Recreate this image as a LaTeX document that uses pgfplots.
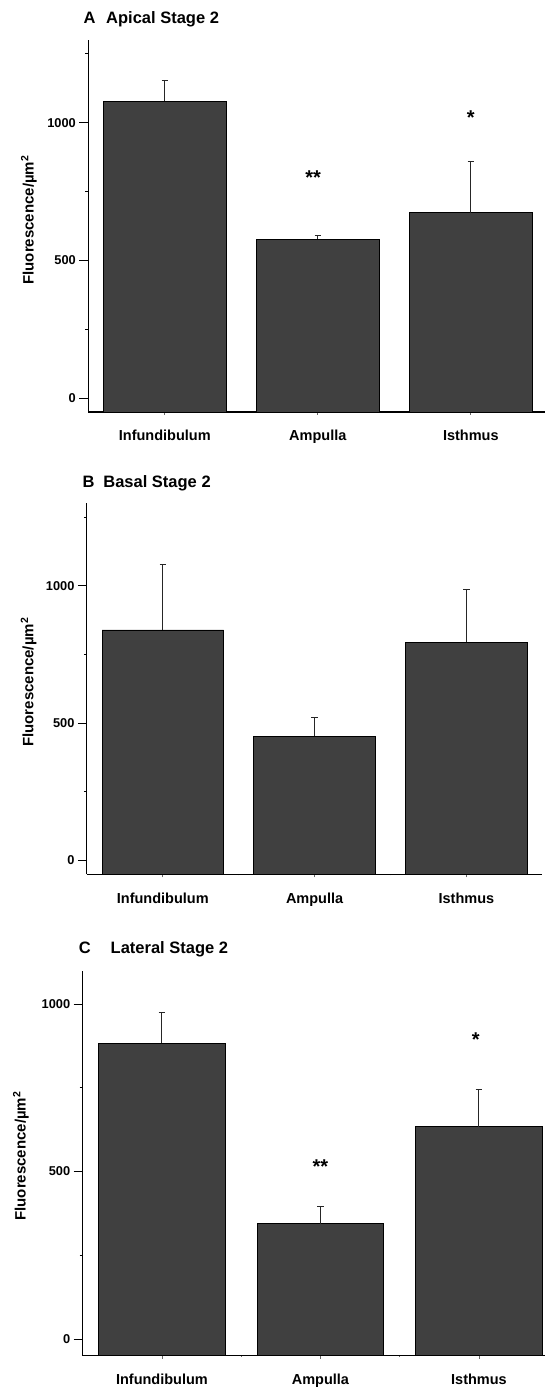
\documentclass[border=0pt]{standalone}
\usepackage{fontspec}
\setmainfont{Liberation Sans}
\usepackage{pgfplots}
\pgfplotsset{compat=1.18}
\definecolor{barfill}{HTML}{404040}
\pgfplotsset{
  panel/.style={
    scale only axis, anchor=south west,
    xmin=-0.5, xmax=2.5,
    y coord trafo/.code={\pgfmathparse{##1+50}},
    y coord inv trafo/.code={\pgfmathparse{##1-50}},
    ymin=-50,
    axis x line*=bottom, axis y line*=left,
    axis line style={line width=1.1bp, black},
    xtick={0,1,2}, xticklabels={Infundibulum,Ampulla,Isthmus},
    minor xtick={0.5,1.5},
    ytick={0,500,1000}, yticklabels={0,500,1000},
    tick align=outside,
    major tick length=9bp, minor tick length=3bp,
    every tick/.style={black, line width=0.9bp},
    xtick style={yscale=0.33, black!60},
    /pgf/number format/assume math mode=true,
    yticklabel style={font=\bfseries\fontsize{12.8bp}{14bp}\selectfont},
    xticklabel style={font=\bfseries\fontsize{14.5bp}{16bp}\selectfont, anchor=base, yshift=-20bp},
    ylabel={Fluorescence/µm\textsuperscript{2}},
    ylabel style={font=\bfseries\fontsize{15bp}{17bp}\selectfont, anchor=center},
  },
  bars/.style={ybar, bar width=0.8, bar shift=0pt, fill=barfill, draw=black, line width=0.9bp,
    error bars/.cd, y dir=plus, y explicit,
    error bar style={line width=1bp, black!85},
    error mark options={rotate=90, mark size=3.3bp, line width=1bp, black!85}},
  stars/.style={draw=none, mark=none, nodes near coords, point meta=explicit symbolic,
    every node near coord/.append style={anchor=center, yshift=-4bp, font=\bfseries\fontsize{20bp}{22bp}\selectfont}},
}
\pgfplotstableread{
x y e
0 1078 74
1 577 15
2 673 185
}\dataA
\pgfplotstableread{
x y e
0 839 239
1 453 68
2 794 193
}\dataB
\pgfplotstableread{
x y e
0 883 91
1 344 53
2 634 112
}\dataC
\begin{document}
\begin{tikzpicture}
\path[use as bounding box] (0,0) rectangle (545bp,1387bp);
% Panel A
\begin{axis}[panel, at={(88.3bp,975bp)}, width=459bp, height=372bp, ymax=1300,
  minor ytick={250,750,1250},
  ylabel style={at={(axis description cs:-0.1296,0.516)}}]
\addplot[bars] table[x=x, y=y, y error=e] {\dataA};
\addplot[stars] table[meta=lab] {
x y lab
0.97 816 **
2 1031 *
};
\end{axis}
\node[anchor=base west, inner sep=0, font=\bfseries\fontsize{16.5bp}{18bp}\selectfont] at (83.3bp,1363.7bp) {A};
\node[anchor=base west, inner sep=0, font=\bfseries\fontsize{16.5bp}{18bp}\selectfont] at (106bp,1363.7bp) {Apical Stage 2};
% Panel B
\begin{axis}[panel, at={(86.9bp,512.7bp)}, width=455.4bp, height=371bp, ymax=1300,
  minor ytick={250,750,1250},
  ylabel style={at={(axis description cs:-0.1278,0.518)}}]
\addplot[bars] table[x=x, y=y, y error=e] {\dataB};
\end{axis}
\node[anchor=base west, inner sep=0, font=\bfseries\fontsize{16.5bp}{18bp}\selectfont] at (82.4bp,899.7bp) {B};
\node[anchor=base west, inner sep=0, font=\bfseries\fontsize{16.5bp}{18bp}\selectfont] at (103.2bp,899.7bp) {Basal Stage 2};
% Panel C
\begin{axis}[panel, at={(82.7bp,31.3bp)}, width=475.5bp, height=385bp, ymax=1100,
  minor ytick={250,750},
  ylabel style={at={(axis description cs:-0.130,0.5187)}}]
\addplot[bars] table[x=x, y=y, y error=e] {\dataC};
\addplot[stars] table[meta=lab] {
x y lab
1 527 **
1.98 906 *
};
\end{axis}
\node[anchor=base west, inner sep=0, font=\bfseries\fontsize{16.5bp}{18bp}\selectfont] at (78.6bp,433bp) {C};
\node[anchor=base west, inner sep=0, font=\bfseries\fontsize{16.5bp}{18bp}\selectfont] at (110.5bp,433bp) {Lateral Stage 2};
\end{tikzpicture}
\end{document}
